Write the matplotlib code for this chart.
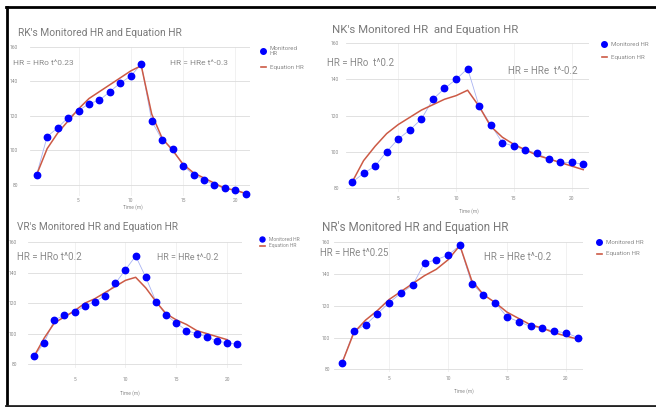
import matplotlib
matplotlib.use('Agg')
import matplotlib.pyplot as plt
from matplotlib.lines import Line2D
import numpy as np

t = list(range(1, 22))

rk_monitored = [86, 108, 113, 119, 123, 127, 129, 134, 139, 143, 150, 117, 106, 101, 91, 86, 83, 80, 78, 77, 75]
rk_equation = [86, 101, 110, 117, 124, 130, 134, 138, 142, 146, 149, 121, 107, 100, 92, 87, 84, 81, 78, 77, 75]

nk_monitored = [83, 88, 92, 100, 107, 112, 118, 129, 135, 140, 146, 125, 115, 105, 103, 101, 99, 96, 94, 94, 93]
nk_equation = [83, 95, 103, 110, 115, 119, 123, 126, 129, 131, 134, 125, 114, 108, 104, 101, 98, 96, 94, 92, 90]

vr_monitored = [85, 94, 109, 112, 114, 118, 121, 125, 133, 142, 151, 137, 121, 112, 107, 102, 100, 98, 95, 94, 93]
vr_equation = [85, 97, 107, 111, 115, 120, 123, 127, 131, 135, 137, 130, 121, 113, 109, 106, 102, 100, 98, 96, np.nan]

nr_monitored = [84, 104, 108, 115, 122, 128, 133, 147, 149, 152, 158, 134, 127, 122, 113, 110, 107, 106, 104, 103, 100]
nr_equation = [84, 103, 111, 117, 124, 129, 134, 139, 143, 149, 158, 136, 127, 122, 116, 112, 108, 106, 103, 101, 99]

y_ticks = [80, 100, 120, 140, 160]
x_ticks = [5, 10, 15, 20]

W = 656.0
H = 407.0
fig = plt.figure(figsize=(6.56, 4.07), dpi=100)
fig.patch.set_facecolor('white')
plt.rcParams['font.family'] = ['Roboto', 'DejaVu Sans']

BLUE = '#0000ff'
RED = '#cc5a45'
GRAY = '#7a7a7a'
LGRAY = '#8a8a8a'


def fx(x):
    return x / W


def fy(y):
    return 1 - y / H


def panel(box, xlim, ylim, monitored, equation, ypad, xpad):
    x0, x1, y0, y1 = box
    ax = fig.add_axes([fx(x0), fy(y1), (x1 - x0) / W, (y1 - y0) / H])
    ax.set_facecolor('none')
    ax.plot(t, monitored, color='#a9b3f2', lw=0.6, zorder=2)
    ax.plot(t, equation, color=RED, lw=1.1, zorder=3)
    ax.plot(t, monitored, 'o', color=BLUE, ms=4.6, mec=BLUE, zorder=4, clip_on=False)
    ax.set_xlim(*xlim)
    ax.set_ylim(*ylim)
    ax.set_yticks(y_ticks)
    ax.set_xticks(x_ticks)
    ax.grid(axis='y', color='#dcdcdc', lw=0.6)
    ax.grid(axis='x', color='#ececec', lw=0.5)
    ax.set_axisbelow(True)
    for s in ax.spines.values():
        s.set_visible(False)
    ax.tick_params(axis='y', length=0, pad=ypad, labelsize=3.5, labelcolor=LGRAY)
    ax.tick_params(axis='x', length=0, pad=xpad, labelsize=3.5, labelcolor=LGRAY)
    return ax


def legend(x, ya, yb, label1, label2='Equation HR', size=4.4, ms=4):
    fig.add_artist(Line2D([fx(x)], [fy(ya)], marker='o', ms=ms, color=BLUE, ls='none',
                          transform=fig.transFigure))
    fig.add_artist(Line2D([fx(x - 2.5), fx(x + 2.5)], [fy(yb), fy(yb)], color=RED, lw=1.2,
                          transform=fig.transFigure))
    fig.text(fx(x + 7), fy(ya), label1, fontsize=size, color=LGRAY, va='center', ha='left',
             linespacing=0.85)
    fig.text(fx(x + 7), fy(yb), label2, fontsize=size, color=LGRAY, va='center', ha='left')


# RK
panel((30, 250, 46.7, 196), (0.36, 21.4), (73.6, 160), rk_monitored, rk_equation, 8.5, 1.5)
fig.text(fx(18), fy(33), "RK's Monitored HR and Equation HR", fontsize=7.4, color=GRAY, va='center')
fig.text(fx(13), fy(63), "HR = HRo t^0.23", fontsize=6.0, color=LGRAY, va='center')
fig.text(fx(170), fy(63), "HR = HRe t^-0.3", fontsize=6.0, color=LGRAY, va='center')
legend(263, 51, 67, 'Monitored\nHR')
fig.text(fx(133), fy(207), 'Time (m)', fontsize=3.5, color=LGRAY, ha='center', va='center')

# NK
panel((346, 589, 43.3, 191.7), (0.48, 21.5), (77.8, 160), nk_monitored, nk_equation, 5, 3)
fig.text(fx(332), fy(30), "NK's Monitored HR  and Equation HR", fontsize=8.2, color=GRAY, va='center')
fig.text(fx(327), fy(63), "HR = HRo  t^0.2", fontsize=7.0, color=LGRAY, va='center')
fig.text(fx(508), fy(71), "HR = HRe  t^-0.2", fontsize=7.0, color=LGRAY, va='center')
legend(604, 44, 57, 'Monitored HR')
fig.text(fx(469), fy(211), 'Time (m)', fontsize=3.5, color=LGRAY, ha='center', va='center')

# VR
panel((28.3, 241.7, 242.3, 368.3), (0.44, 21.43), (77.2, 160), vr_monitored, vr_equation, 8, 6)
fig.text(fx(17), fy(227), "VR's Monitored HR and Equation HR", fontsize=7.2, color=GRAY, va='center')
fig.text(fx(17), fy(257), "HR = HRo t^0.2", fontsize=7.0, color=LGRAY, va='center')
fig.text(fx(157), fy(257), "HR = HRe t^-0.2", fontsize=6.4, color=LGRAY, va='center')
legend(262, 239.5, 246, 'Monitored HR', size=3.6, ms=3.6)
fig.text(fx(130), fy(393), 'Time (m)', fontsize=3.5, color=LGRAY, ha='center', va='center')

# NR
panel((334, 582.7, 242.3, 371.7), (0.32, 21.42), (78.5, 160), nr_monitored, nr_equation, 3, 3)
fig.text(fx(322), fy(228), "NR's Monitored HR and Equation HR", fontsize=8.4, color=GRAY, va='center')
fig.text(fx(320), fy(253), "HR = HRe t^0.25", fontsize=6.9, color=LGRAY, va='center')
fig.text(fx(484), fy(257), "HR = HRe t^-0.2", fontsize=7.0, color=LGRAY, va='center')
legend(599, 242, 254, 'Monitored HR')
fig.text(fx(464), fy(391), 'Time (m)', fontsize=3.5, color=LGRAY, ha='center', va='center')

# black frame (left, top, bottom)
fig.add_artist(Line2D([fx(7), fx(7)], [fy(7), fy(405.5)], color='black', lw=2, transform=fig.transFigure))
fig.add_artist(Line2D([fx(6), fx(656)], [fy(7), fy(7)], color='black', lw=2, transform=fig.transFigure))
fig.add_artist(Line2D([fx(6), fx(656)], [fy(405.5), fy(405.5)], color='#222222', lw=2, transform=fig.transFigure))

plt.savefig('out.png', dpi=100)
